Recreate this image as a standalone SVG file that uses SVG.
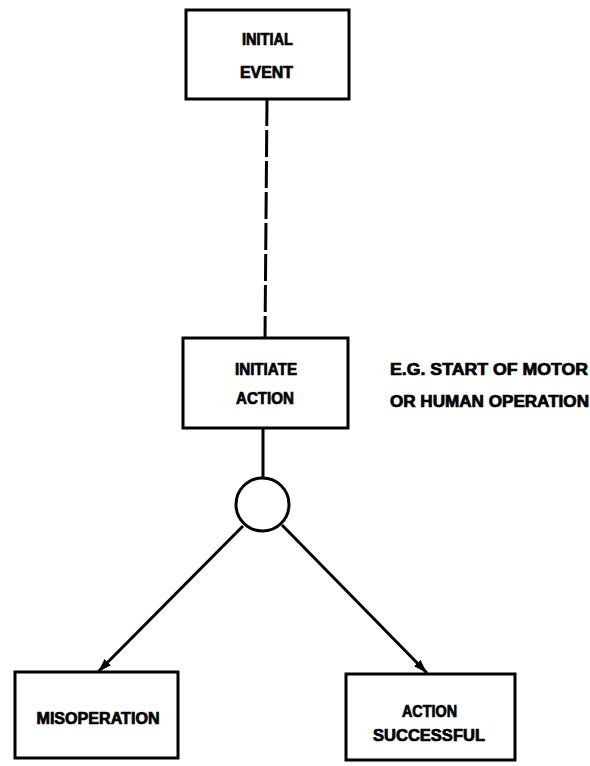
<svg xmlns="http://www.w3.org/2000/svg" width="590" height="766" viewBox="0 0 590 766">
<style>
.box{fill:#fff;stroke:#000;stroke-width:3}
.ln{fill:none;stroke:#000;stroke-width:3}
.t{font-family:"Liberation Sans",Arial,sans-serif;font-weight:bold;font-size:16px;fill:#000;stroke:#000;stroke-width:0.7;text-anchor:middle}
.n{font-family:"Liberation Sans",Arial,sans-serif;font-weight:bold;font-size:16px;fill:#000;stroke:#000;stroke-width:0.7}
</style>
<defs>
<marker id="ah" viewBox="0 0 14 9" refX="14" refY="4.5" markerWidth="14" markerHeight="9" markerUnits="userSpaceOnUse" orient="auto">
<path d="M0,0 L14,4.5 L0,9 z" fill="#000"/>
</marker>
</defs>
<rect width="590" height="766" fill="#fff"/>
<g id="connectors">
<line class="ln" x1="267" y1="99" x2="265" y2="338" stroke-dasharray="27,4"/>
<line class="ln" x1="263" y1="428" x2="263" y2="478"/>
<line class="ln" x1="243" y1="526" x2="98" y2="672" marker-end="url(#ah)"/>
<line class="ln" x1="282" y1="525" x2="427" y2="673" marker-end="url(#ah)"/>
</g>
<g id="initial-event">
<rect class="box" x="186" y="10" width="163" height="89"/>
<text class="t" x="267.5" y="45" textLength="51" lengthAdjust="spacingAndGlyphs">INITIAL</text>
<text class="t" x="266.5" y="78" textLength="53" lengthAdjust="spacingAndGlyphs">EVENT</text>
</g>
<g id="initiate-action">
<rect class="box" x="183" y="338" width="165" height="90"/>
<text class="t" x="266" y="375" textLength="62" lengthAdjust="spacingAndGlyphs">INITIATE</text>
<text class="t" x="265" y="404" textLength="58" lengthAdjust="spacingAndGlyphs">ACTION</text>
</g>
<g id="note">
<text class="n" x="390" y="375" textLength="198" lengthAdjust="spacingAndGlyphs">E.G. START OF MOTOR</text>
<text class="n" x="390" y="407" textLength="199" lengthAdjust="spacingAndGlyphs">OR HUMAN OPERATION</text>
</g>
<g id="gate">
<circle class="box" cx="262.5" cy="504.5" r="26.5"/>
</g>
<g id="misoperation">
<rect class="box" x="15" y="672" width="163" height="86"/>
<text class="t" x="98" y="724" textLength="123" lengthAdjust="spacingAndGlyphs">MISOPERATION</text>
</g>
<g id="action-successful">
<rect class="box" x="346" y="674" width="169" height="86"/>
<text class="t" x="429.5" y="717" textLength="55" lengthAdjust="spacingAndGlyphs">ACTION</text>
<text class="t" x="429" y="741" textLength="112" lengthAdjust="spacingAndGlyphs">SUCCESSFUL</text>
</g>
</svg>
